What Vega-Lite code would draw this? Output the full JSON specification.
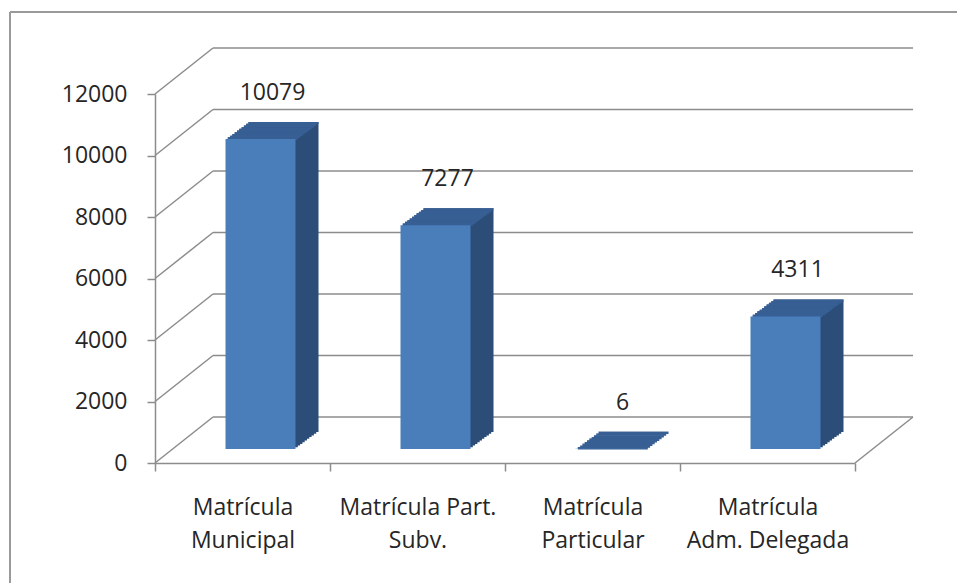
{
  "$schema": "https://vega.github.io/schema/vega-lite/v6.json",
  "autosize": {"type": "none"},
  "padding": {"left": 10, "top": 12, "right": 0, "bottom": 0},
  "width": 947,
  "height": 571,
  "background": "white",
  "config": {
    "view": {"stroke": "#9a9a9a", "strokeWidth": 2, "strokeDash": [947, 1518, 571, 0]},
    "axis": {"domainColor": "#8c8c8c", "domainWidth": 1.5, "tickColor": "#8c8c8c", "tickWidth": 1.5, "labelFont": "Open Sans", "labelFontSize": 23, "labelColor": "#262626", "grid": false, "title": null}
  },
  "datasets": {
    "bars": [
      {"cat": "Matrícula Municipal", "value": 10079},
      {"cat": "Matrícula Part. Subv.", "value": 7277},
      {"cat": "Matrícula Particular", "value": 6},
      {"cat": "Matrícula Adm. Delegada", "value": 4311}
    ],
    "grid": [{"v": 0}, {"v": 2000}, {"v": 4000}, {"v": 6000}, {"v": 8000}, {"v": 10000}, {"v": 12000}]
  },
  "layer": [
    {
      "data": {"name": "grid"},
      "mark": {"type": "rule", "color": "#8c8c8c", "strokeWidth": 1.5, "xOffset": 58, "x2Offset": 58, "yOffset": -46, "y2Offset": -46},
      "encoding": {
        "x": {"datum": "Matrícula Municipal", "bandPosition": 0, "type": "nominal", "scale": {"domain": ["Matrícula Municipal", "Matrícula Part. Subv.", "Matrícula Particular", "Matrícula Adm. Delegada"], "range": [145, 845], "paddingInner": 0, "paddingOuter": 0}, "axis": {"orient": "bottom", "offset": -120, "tickBand": "extent", "tickSize": 8, "labelAngle": 0, "labelPadding": 25, "labelBaseline": "top", "labelLineHeight": 33, "labelExpr": "datum.label == 'Matrícula Municipal' ? ['Matrícula', 'Municipal'] : datum.label == 'Matrícula Part. Subv.' ? ['Matrícula Part.', 'Subv.'] : datum.label == 'Matrícula Particular' ? ['Matrícula', 'Particular'] : datum.label == 'Matrícula Adm. Delegada' ? ['Matrícula', 'Adm. Delegada'] : ''"}},
        "x2": {"datum": "Matrícula Adm. Delegada", "bandPosition": 1},
        "y": {"field": "v", "type": "quantitative", "scale": {"domain": [0, 12000], "range": [451, 82], "nice": false}, "axis": {"orient": "left", "offset": -145, "values": [0, 2000, 4000, 6000, 8000, 10000, 12000], "format": "d", "tickSize": 8, "labelPadding": 20}}
      }
    },
    {
      "data": {"name": "grid"},
      "mark": {"type": "rule", "color": "#8c8c8c", "strokeWidth": 1.5, "x2Offset": 58, "y2Offset": -46},
      "encoding": {
        "x": {"datum": "Matrícula Municipal", "bandPosition": 0, "type": "nominal"},
        "x2": {"datum": "Matrícula Municipal", "bandPosition": 0},
        "y": {"field": "v", "type": "quantitative"},
        "y2": {"field": "v"}
      }
    },
    {
      "data": {"name": "grid"},
      "transform": [{"filter": "datum.v == 0"}],
      "mark": {"type": "rule", "color": "#8c8c8c", "strokeWidth": 1.5, "x2Offset": 58, "y2Offset": -46},
      "encoding": {
        "x": {"datum": "Matrícula Adm. Delegada", "bandPosition": 1, "type": "nominal"},
        "x2": {"datum": "Matrícula Adm. Delegada", "bandPosition": 1},
        "y": {"field": "v", "type": "quantitative"},
        "y2": {"field": "v"}
      }
    },
    {"data": {"name": "bars"}, "mark": {"type": "bar", "color": "#2c4d78", "width": {"band": 0.4}, "xOffset": 20.3, "yOffset": -15.7, "y2Offset": -15.7}, "encoding": {"x": {"field": "cat", "type": "nominal"}, "y": {"field": "value", "type": "quantitative"}, "y2": {"datum": 0}}},
    {"data": {"name": "bars"}, "mark": {"type": "bar", "color": "#2c4d78", "width": {"band": 0.4}, "xOffset": 22.6, "yOffset": -17.4, "y2Offset": -17.4}, "encoding": {"x": {"field": "cat", "type": "nominal"}, "y": {"field": "value", "type": "quantitative"}, "y2": {"datum": 0}}},
    {"data": {"name": "bars"}, "mark": {"type": "bar", "color": "#2c4d78", "width": {"band": 0.4}, "xOffset": 24.9, "yOffset": -19.1, "y2Offset": -19.1}, "encoding": {"x": {"field": "cat", "type": "nominal"}, "y": {"field": "value", "type": "quantitative"}, "y2": {"datum": 0}}},
    {"data": {"name": "bars"}, "mark": {"type": "bar", "color": "#2c4d78", "width": {"band": 0.4}, "xOffset": 27.2, "yOffset": -20.8, "y2Offset": -20.8}, "encoding": {"x": {"field": "cat", "type": "nominal"}, "y": {"field": "value", "type": "quantitative"}, "y2": {"datum": 0}}},
    {"data": {"name": "bars"}, "mark": {"type": "bar", "color": "#2c4d78", "width": {"band": 0.4}, "xOffset": 29.5, "yOffset": -22.5, "y2Offset": -22.5}, "encoding": {"x": {"field": "cat", "type": "nominal"}, "y": {"field": "value", "type": "quantitative"}, "y2": {"datum": 0}}},
    {"data": {"name": "bars"}, "mark": {"type": "bar", "color": "#2c4d78", "width": {"band": 0.4}, "xOffset": 31.8, "yOffset": -24.2, "y2Offset": -24.2}, "encoding": {"x": {"field": "cat", "type": "nominal"}, "y": {"field": "value", "type": "quantitative"}, "y2": {"datum": 0}}},
    {"data": {"name": "bars"}, "mark": {"type": "bar", "color": "#2c4d78", "width": {"band": 0.4}, "xOffset": 34.1, "yOffset": -25.9, "y2Offset": -25.9}, "encoding": {"x": {"field": "cat", "type": "nominal"}, "y": {"field": "value", "type": "quantitative"}, "y2": {"datum": 0}}},
    {"data": {"name": "bars"}, "mark": {"type": "bar", "color": "#2c4d78", "width": {"band": 0.4}, "xOffset": 36.4, "yOffset": -27.6, "y2Offset": -27.6}, "encoding": {"x": {"field": "cat", "type": "nominal"}, "y": {"field": "value", "type": "quantitative"}, "y2": {"datum": 0}}},
    {"data": {"name": "bars"}, "mark": {"type": "bar", "color": "#2c4d78", "width": {"band": 0.4}, "xOffset": 38.7, "yOffset": -29.3, "y2Offset": -29.3}, "encoding": {"x": {"field": "cat", "type": "nominal"}, "y": {"field": "value", "type": "quantitative"}, "y2": {"datum": 0}}},
    {"data": {"name": "bars"}, "mark": {"type": "bar", "color": "#2c4d78", "width": {"band": 0.4}, "xOffset": 41, "yOffset": -31, "y2Offset": -31}, "encoding": {"x": {"field": "cat", "type": "nominal"}, "y": {"field": "value", "type": "quantitative"}, "y2": {"datum": 0}}},
    {"data": {"name": "bars"}, "mark": {"type": "bar", "color": "#375f94", "width": {"band": 0.4}, "xOffset": 20.3, "yOffset": -15.7, "y2Offset": -13.4}, "encoding": {"x": {"field": "cat", "type": "nominal"}, "y": {"field": "value", "type": "quantitative"}, "y2": {"field": "value"}}},
    {"data": {"name": "bars"}, "mark": {"type": "bar", "color": "#375f94", "width": {"band": 0.4}, "xOffset": 22.6, "yOffset": -17.4, "y2Offset": -15.1}, "encoding": {"x": {"field": "cat", "type": "nominal"}, "y": {"field": "value", "type": "quantitative"}, "y2": {"field": "value"}}},
    {"data": {"name": "bars"}, "mark": {"type": "bar", "color": "#375f94", "width": {"band": 0.4}, "xOffset": 24.9, "yOffset": -19.1, "y2Offset": -16.8}, "encoding": {"x": {"field": "cat", "type": "nominal"}, "y": {"field": "value", "type": "quantitative"}, "y2": {"field": "value"}}},
    {"data": {"name": "bars"}, "mark": {"type": "bar", "color": "#375f94", "width": {"band": 0.4}, "xOffset": 27.2, "yOffset": -20.8, "y2Offset": -18.5}, "encoding": {"x": {"field": "cat", "type": "nominal"}, "y": {"field": "value", "type": "quantitative"}, "y2": {"field": "value"}}},
    {"data": {"name": "bars"}, "mark": {"type": "bar", "color": "#375f94", "width": {"band": 0.4}, "xOffset": 29.5, "yOffset": -22.5, "y2Offset": -20.2}, "encoding": {"x": {"field": "cat", "type": "nominal"}, "y": {"field": "value", "type": "quantitative"}, "y2": {"field": "value"}}},
    {"data": {"name": "bars"}, "mark": {"type": "bar", "color": "#375f94", "width": {"band": 0.4}, "xOffset": 31.8, "yOffset": -24.2, "y2Offset": -21.9}, "encoding": {"x": {"field": "cat", "type": "nominal"}, "y": {"field": "value", "type": "quantitative"}, "y2": {"field": "value"}}},
    {"data": {"name": "bars"}, "mark": {"type": "bar", "color": "#375f94", "width": {"band": 0.4}, "xOffset": 34.1, "yOffset": -25.9, "y2Offset": -23.6}, "encoding": {"x": {"field": "cat", "type": "nominal"}, "y": {"field": "value", "type": "quantitative"}, "y2": {"field": "value"}}},
    {"data": {"name": "bars"}, "mark": {"type": "bar", "color": "#375f94", "width": {"band": 0.4}, "xOffset": 36.4, "yOffset": -27.6, "y2Offset": -25.3}, "encoding": {"x": {"field": "cat", "type": "nominal"}, "y": {"field": "value", "type": "quantitative"}, "y2": {"field": "value"}}},
    {"data": {"name": "bars"}, "mark": {"type": "bar", "color": "#375f94", "width": {"band": 0.4}, "xOffset": 38.7, "yOffset": -29.3, "y2Offset": -27.0}, "encoding": {"x": {"field": "cat", "type": "nominal"}, "y": {"field": "value", "type": "quantitative"}, "y2": {"field": "value"}}},
    {"data": {"name": "bars"}, "mark": {"type": "bar", "color": "#375f94", "width": {"band": 0.4}, "xOffset": 41, "yOffset": -31, "y2Offset": -28.7}, "encoding": {"x": {"field": "cat", "type": "nominal"}, "y": {"field": "value", "type": "quantitative"}, "y2": {"field": "value"}}},
    {
      "data": {"name": "bars"},
      "mark": {"type": "bar", "color": "#4a7ebb", "width": {"band": 0.4}, "xOffset": 18, "yOffset": -14, "y2Offset": -14},
      "encoding": {
        "x": {"field": "cat", "type": "nominal"},
        "y": {"field": "value", "type": "quantitative"},
        "y2": {"datum": 0}
      }
    },
    {
      "data": {"name": "bars"},
      "mark": {"type": "text", "font": "Open Sans", "fontSize": 23, "color": "#262626", "baseline": "middle", "align": "center", "xOffset": 30, "yOffset": -60},
      "encoding": {
        "x": {"field": "cat", "type": "nominal"},
        "y": {"field": "value", "type": "quantitative"},
        "text": {"field": "value", "type": "quantitative", "format": "d"}
      }
    }
  ]
}
